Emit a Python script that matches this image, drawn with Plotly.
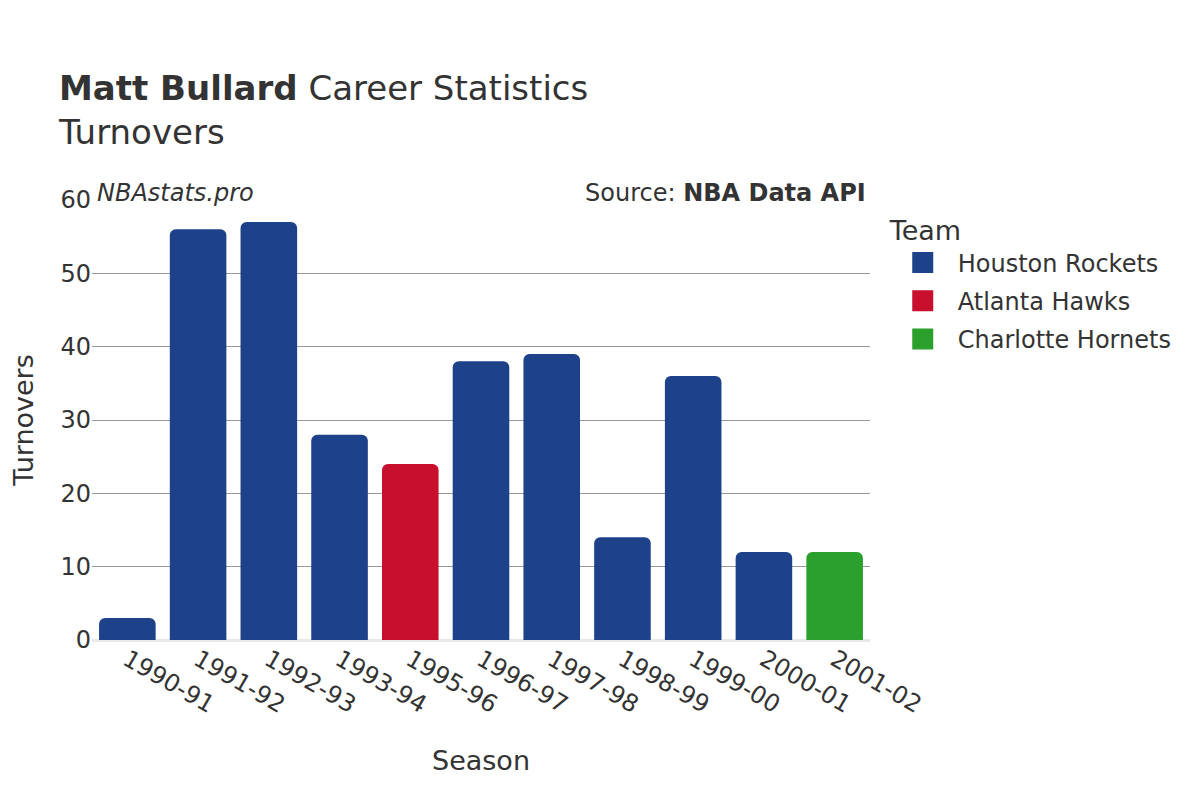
import plotly.graph_objects as go

seasons = ["1990-91", "1991-92", "1992-93", "1993-94", "1995-96", "1996-97",
           "1997-98", "1998-99", "1999-00", "2000-01", "2001-02"]
teams = ["Houston Rockets", "Houston Rockets", "Houston Rockets", "Houston Rockets",
         "Atlanta Hawks", "Houston Rockets", "Houston Rockets", "Houston Rockets",
         "Houston Rockets", "Houston Rockets", "Charlotte Hornets"]
turnovers = [3, 56, 57, 28, 24, 38, 39, 14, 36, 12, 12]
team_order = ["Houston Rockets", "Atlanta Hawks", "Charlotte Hornets"]
team_colors = {"Houston Rockets": "#1d428a", "Atlanta Hawks": "#c8102e",
               "Charlotte Hornets": "#2ca02c"}

fig = go.Figure()
for t in team_order:
    xs = [s for s, tm in zip(seasons, teams) if tm == t]
    ys = [v for v, tm in zip(turnovers, teams) if tm == t]
    fig.add_trace(go.Bar(x=xs, y=ys, name=t, marker_color=team_colors[t],
                         marker_line_width=0, showlegend=False, legendgroup=t))
    # legend-only marker with a larger symbol
    fig.add_trace(go.Scatter(x=[None], y=[None], mode="markers", name=t,
                             legendgroup=t,
                             marker=dict(symbol="square", size=16,
                                         color=team_colors[t],
                                         line=dict(color=team_colors[t], width=5))))

font = "DejaVu Sans"
fig.update_layout(
    width=1200, height=800,
    font=dict(family=font, color="#333333", size=24),
    paper_bgcolor="white", plot_bgcolor="white",
    barmode="relative", bargap=0.2, barcornerradius=6,
    margin=dict(l=84, r=338, t=192, b=168, autoexpand=False),
    title=dict(text="<b>Matt Bullard</b> Career Statistics<br>Turnovers",
               x=0.0425, xanchor="left", y=0.885, yanchor="middle",
               font=dict(size=34, family=font, color="#333333")),
    xaxis=dict(type="category", title=dict(text="Season", font=dict(size=27), standoff=33),
               categoryorder="array", categoryarray=seasons,
               tickangle=30, tickfont=dict(size=24), showgrid=False,
               ticks="", showline=False, automargin=False),
    yaxis=dict(title=dict(text="Turnovers", font=dict(size=27), standoff=33),
               range=[0, 60], dtick=10, tickfont=dict(size=24),
               showgrid=True, gridcolor="#999999", gridwidth=1,
               zeroline=True, zerolinecolor="#e8e8e8", zerolinewidth=3,
               ticks="", automargin=True),
    legend=dict(title=dict(text="Team", font=dict(size=27)),
                x=1.0228, xanchor="left", y=0.988, yanchor="top",
                font=dict(size=24), itemsizing="trace", itemwidth=60,
                tracegroupgap=4),
    annotations=[
        dict(text="<i>NBAstats.pro</i>", x=0, xref="paper", y=1.0, yref="paper",
             xanchor="left", yanchor="bottom", showarrow=False,
             xshift=3, yshift=-9, font=dict(size=24, color="#333333")),
        dict(text="Source: <b>NBA Data API</b>", x=1, xref="paper", y=1.0,
             yref="paper", xanchor="right", yanchor="bottom", showarrow=False,
             xshift=-2, yshift=-9, font=dict(size=24, color="#333333")),
    ],
)

fig.write_html("out.html")
